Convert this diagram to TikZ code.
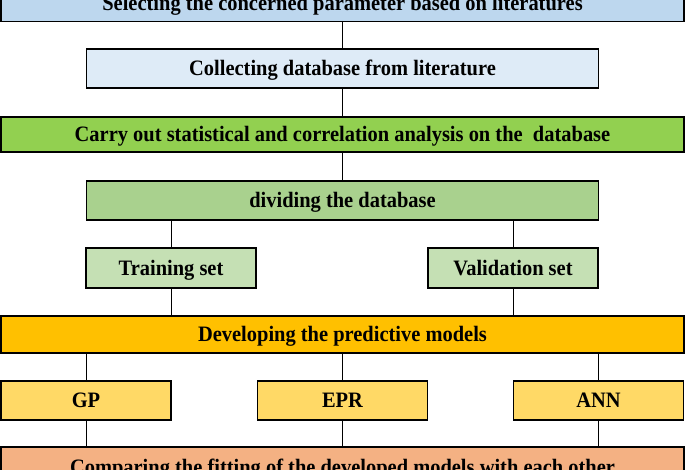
\documentclass[tikz,border=0pt]{standalone}
\usepackage{fontspec}
\setmainfont{Liberation Serif}[FakeStretch=0.93]
\definecolor{selblue}{HTML}{BDD7EE}
\definecolor{colblue}{HTML}{DEEBF7}
\definecolor{anagreen}{HTML}{92D050}
\definecolor{divgreen}{HTML}{A9D18E}
\definecolor{setgreen}{HTML}{C5E0B4}
\definecolor{devorange}{HTML}{FFC000}
\definecolor{modyellow}{HTML}{FFD966}
\definecolor{cmpsalmon}{HTML}{F4B183}
\begin{document}
\begin{tikzpicture}[x=1pt,y=-1pt]
  \tikzset{
    stagebox/.style={draw=black, line width=1.3pt, inner sep=0pt,
      text height=14.6pt, text depth=0pt,
      font=\fontsize{22}{24}\selectfont\bfseries},
    link/.style={black, line width=0.8pt}
  }
  \useasboundingbox (0,0) rectangle (685,470);
  \clip (0,0) rectangle (685,470);
  \node[stagebox, fill=selblue, minimum width=683, minimum height=35] (select) at (342.5,3.7) {Selecting the concerned parameter based on literatures};
  \node[stagebox, fill=colblue, minimum width=512, minimum height=39] (collect) at (342.5,68.5) {Collecting database from literature};
  \node[stagebox, fill=anagreen, minimum width=683, minimum height=35] (analyse) at (342.5,134.5) {Carry out statistical and correlation analysis on the \ database};
  \node[stagebox, fill=divgreen, minimum width=512, minimum height=39] (divide) at (342.5,200.5) {dividing the database};
  \node[stagebox, fill=setgreen, minimum width=170, minimum height=40] (train) at (171,268) {Training set};
  \node[stagebox, fill=setgreen, minimum width=170, minimum height=40] (valid) at (513,268) {Validation set};
  \node[stagebox, fill=devorange, minimum width=683, minimum height=37] (develop) at (342.5,334.5) {Developing the predictive models};
  \foreach \name/\x/\txt in {gp/86/GP, epr/342.5/EPR, ann/598.5/ANN} {
      \node[stagebox, fill=modyellow, minimum width=170, minimum height=39] (\name) at (\x,400.5) {\txt};
  }
  \node[stagebox, fill=cmpsalmon, minimum width=683, minimum height=41] (compare) at (342.5,467.5) {Comparing the fitting of the developed models with each other};
  % connectors
  \draw[link] (select) -- (collect);
  \draw[link] (collect) -- (analyse);
  \draw[link] (analyse) -- (divide);
  \foreach \name in {train, valid} {
      \draw[link] (\name.north) -- (\name.north |- divide.south);
      \draw[link] (\name.south) -- (\name.south |- develop.north);
  }
  \foreach \name in {gp, epr, ann} {
      \draw[link] (\name.north) -- (\name.north |- develop.south);
      \draw[link] (\name.south) -- (\name.south |- compare.north);
  }
\end{tikzpicture}
\end{document}
